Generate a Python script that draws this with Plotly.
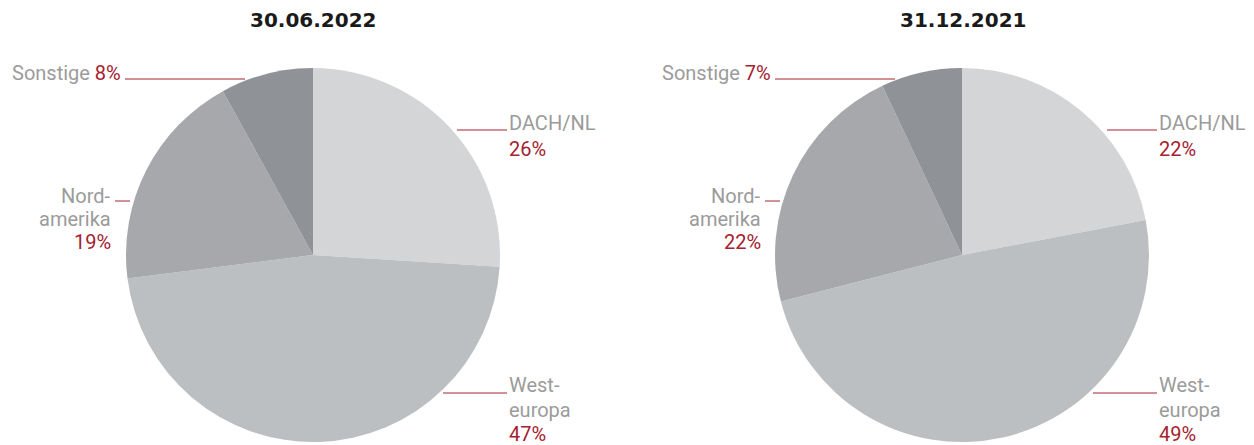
import plotly.graph_objects as go

regions = ["DACH/NL", "Westeuropa", "Nordamerika", "Sonstige"]
titles = ["30.06.2022", "31.12.2021"]
values_2022 = [26, 47, 19, 8]
values_2021 = [22, 49, 22, 7]
colors = ["#d4d5d7", "#bcbfc2", "#a6a8ac", "#8f9297"]

RED = "#a5222f"
GREY = "#9b9b9b"
OFF = 8  # default page margin of the browser body
W, H = 1254 - OFF, 445 - OFF


def px(x):
    return (x - OFF) / W


def py(y):
    return 1 - (y - OFF) / H


fig = go.Figure()
domains = [[px(126), px(500)], [px(775), px(1149)]]
for vals, dom in zip([values_2022, values_2021], domains):
    fig.add_trace(go.Pie(
        labels=regions, values=vals, sort=False, direction="clockwise",
        rotation=0, textinfo="none", hoverinfo="label+percent",
        marker=dict(colors=colors, line=dict(width=0)),
        domain=dict(x=dom, y=[py(442), py(68)]), showlegend=False,
    ))

ann = []


def txt(x, y, text, anchor, color=GREY, size=20, family="Roboto"):
    ann.append(dict(x=px(x), y=py(y), xref="paper", yref="paper", text=text,
                    showarrow=False, xanchor=anchor, yanchor="middle",
                    font=dict(family=family, size=size, color=color)))


shapes = []


def line(x0, x1, y):
    shapes.append(dict(type="line", xref="paper", yref="paper", x0=px(x0), x1=px(x1),
                       y0=py(y), y1=py(y), line=dict(color=RED, width=1)))


offsets = [0, 650]
for k, (vals, off) in enumerate(zip([values_2022, values_2021], offsets)):
    cx = 313 + off
    txt(cx, 20, "<b>" + titles[k] + "</b>", "center", color="#1a1a1a", size=20, family="DejaVu Sans")
    # Sonstige
    txt(123 + off, 73, "Sonstige <span style='color:%s'>%d%%</span>" % (RED, vals[3]), "right")
    line(125 + off, 245 + off, 79)
    # DACH/NL
    txt(507 + off, 123, "DACH/NL", "left")
    txt(507 + off, 149, "%d%%" % vals[0], "left", color=RED)
    line(457 + off, 507 + off, 130)
    # Nordamerika
    txt(113 + off, 196, "Nord-", "right")
    txt(113 + off, 219, "amerika", "right")
    txt(113 + off, 242, "%d%%" % vals[2], "right", color=RED)
    line(115 + off, 130 + off, 201)
    # Westeuropa
    txt(507 + off, 385, "West-", "left")
    txt(507 + off, 410, "europa", "left")
    txt(507 + off, 434, "%d%%" % vals[1], "left", color=RED)
    line(443 + off, 507 + off, 393)

fig.update_layout(
    width=W, height=H, margin=dict(l=0, r=0, t=0, b=0),
    paper_bgcolor="white", plot_bgcolor="white",
    annotations=ann, shapes=shapes,
)
fig.write_html("out.html")
